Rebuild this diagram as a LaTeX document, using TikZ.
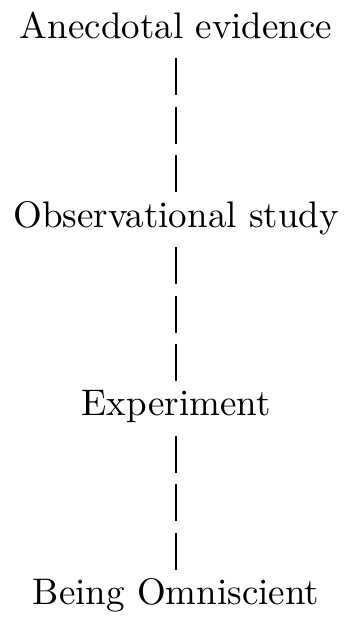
\documentclass[tikz,border=0pt]{standalone}
\usepackage{tikz}

\begin{document}
\begin{tikzpicture}[x=1pt,y=1pt,
    level/.style={anchor=base,inner sep=0pt},
    bars/.style={line width=0.5pt,dash pattern=on 10pt off 3.1pt}]
    
    % Batas gambar
    \useasboundingbox (-47.6,-169.2) rectangle (45.4,0);
    
    % Tingkat bukti dari atas ke bawah
    \node[level] (anec) at (0,-10.3) {Anecdotal evidence};
    \node[level] (obs) at (0,-61.4) {Observational study};
    \node[level] (exp) at (0,-112.4) {Experiment};
    \node[level] (omni) at (0,-163.5) {Being Omniscient};
    
    % Garis putus-putus antar tingkat
    \draw[bars] ([yshift=-5.4pt]anec.base) -- ([yshift=9.5pt]obs.base);
    \draw[bars] ([yshift=-5.4pt]obs.base) -- ([yshift=9.5pt]exp.base);
    \draw[bars] ([yshift=-5.4pt]exp.base) -- ([yshift=9.5pt]omni.base);
    
\end{tikzpicture}
\end{document}
